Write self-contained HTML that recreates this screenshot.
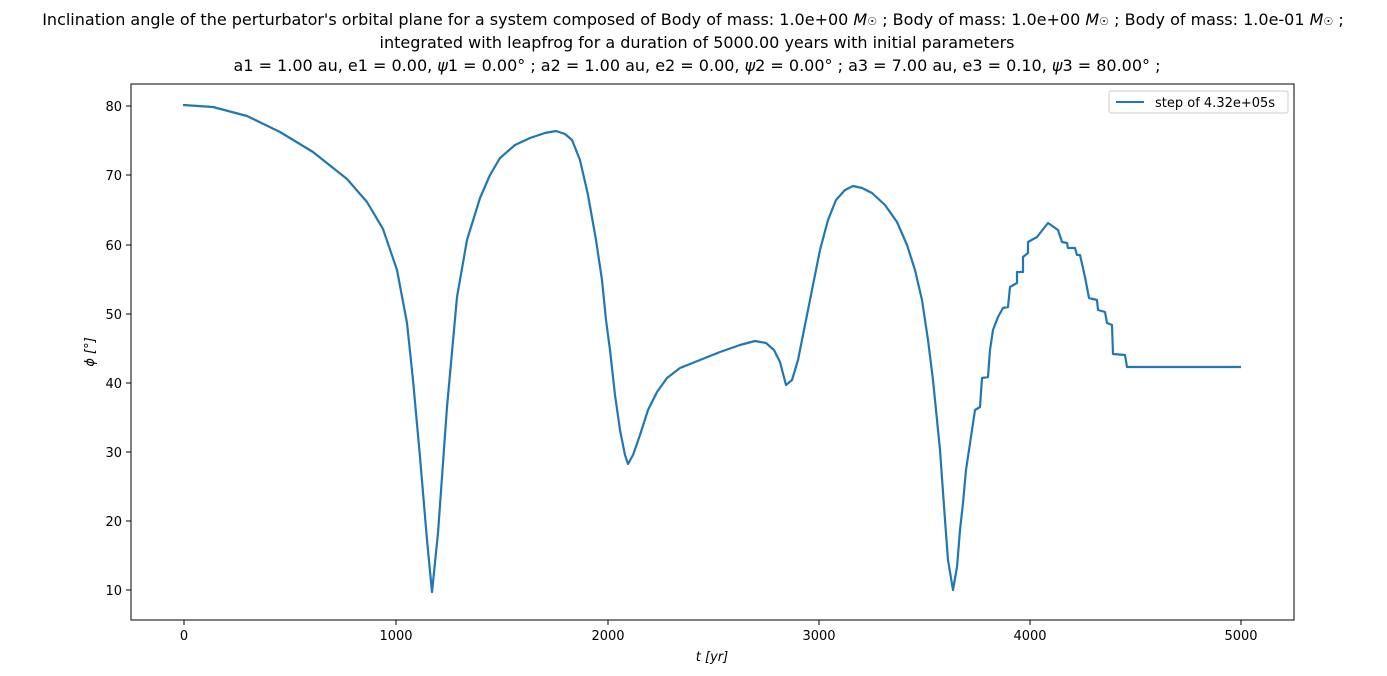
<!DOCTYPE html>
<html><head><meta charset="utf-8"><style>
body{margin:0;background:#fff;}
svg{display:block;font-family:"DejaVu Sans","Liberation Sans",sans-serif;}
</style></head><body>
<svg width="1387" height="676" viewBox="0 0 1387 676">
<rect width="1387" height="676" fill="#fff"/>
<g font-size="16" text-anchor="middle" fill="#000">
<text x="693" y="25">Inclination angle of the perturbator's orbital plane for a system composed of Body of mass: 1.0e+00 <tspan font-style="italic">M</tspan><tspan font-size="11">☉</tspan> ; Body of mass: 1.0e+00 <tspan font-style="italic">M</tspan><tspan font-size="11">☉</tspan> ; Body of mass: 1.0e-01 <tspan font-style="italic">M</tspan><tspan font-size="11">☉</tspan> ;</text>
<text x="697" y="48">integrated with leapfrog for a duration of 5000.00 years with initial parameters</text>
<text x="697" y="71">a1 = 1.00 au, e1 = 0.00, <tspan font-style="italic">ψ</tspan>1 = 0.00° ; a2 = 1.00 au, e2 = 0.00, <tspan font-style="italic">ψ</tspan>2 = 0.00° ; a3 = 7.00 au, e3 = 0.10, <tspan font-style="italic">ψ</tspan>3 = 80.00° ;</text>
</g>
<rect x="131" y="84" width="1163" height="536" fill="none" stroke="#000" stroke-width="1"/>
<g stroke="#000" stroke-width="1">
<line x1="184" y1="620" x2="184" y2="625"/><line x1="396" y1="620" x2="396" y2="625"/><line x1="608" y1="620" x2="608" y2="625"/><line x1="819" y1="620" x2="819" y2="625"/><line x1="1030" y1="620" x2="1030" y2="625"/><line x1="1241" y1="620" x2="1241" y2="625"/>
<line x1="126" y1="590" x2="131" y2="590"/><line x1="126" y1="521" x2="131" y2="521"/><line x1="126" y1="452" x2="131" y2="452"/><line x1="126" y1="383" x2="131" y2="383"/><line x1="126" y1="314" x2="131" y2="314"/><line x1="126" y1="245" x2="131" y2="245"/><line x1="126" y1="175" x2="131" y2="175"/><line x1="126" y1="106" x2="131" y2="106"/>
</g>
<g font-size="13" text-anchor="middle">
<text x="184" y="640">0</text><text x="396" y="640">1000</text><text x="608" y="640">2000</text><text x="819" y="640">3000</text><text x="1030" y="640">4000</text><text x="1241" y="640">5000</text>
<text x="712" y="661" font-style="italic">t [yr]</text>
</g>
<g font-size="13" text-anchor="end">
<text x="122" y="595">10</text><text x="122" y="526">20</text><text x="122" y="457">30</text><text x="122" y="388">40</text><text x="122" y="319">50</text><text x="122" y="250">60</text><text x="122" y="180">70</text><text x="122" y="111">80</text>
</g>
<text transform="translate(94,352) rotate(-90)" font-size="13" text-anchor="middle" font-style="italic">ϕ [°]</text>
<polyline fill="none" stroke="#1f77b4" stroke-width="2.2" stroke-linejoin="round" points="183,105 213,107 247,116 280,132 313,152 347,179 367,202 383,229 397,270 407,323 413,380 420,457 427,540 432,592 438,533 447,407 457,297 467,240 480,198 490,175 500,158 515,145 530,138 545,133 556,131 565,134 572,140 580,160 588,195 596,240 602,280 606,320 610,350 615,395 620,430 625,455 628,464 633,455 640,435 648,410 657,392 667,378 680,368 700,360 720,352 740,345 755,341 766,343 774,350 780,362 786,385 792,380 798,360 805,325 812,290 820,250 828,220 836,200 845,190 853,186 862,188 872,193 885,205 897,222 907,245 915,270 922,300 928,340 933,380 938,430 940,450 945,520 948,560 953,590 957,567 960,530 963,503 966,470 972,430 975,410 980,407 982,378 988,377 990,350 993,330 998,317 1003,308 1008,307 1010,287 1017,283 1017,272 1023,272 1023,257 1028,253 1028,242 1037,237 1048,223 1058,230 1062,242 1067,243 1068,248 1075,248 1077,255 1080,255 1085,277 1089,298 1097,300 1098,310 1105,312 1107,323 1112,325 1113,354 1125,355 1127,367 1241,367"/>
<rect x="1109" y="91" width="179" height="22" fill="#fff" stroke="#ccc" rx="2"/>
<line x1="1116" y1="102" x2="1144" y2="102" stroke="#1f77b4" stroke-width="2"/>
<text x="1155" y="107" font-size="13">step of 4.32e+05s</text>
</svg>
</body></html>
